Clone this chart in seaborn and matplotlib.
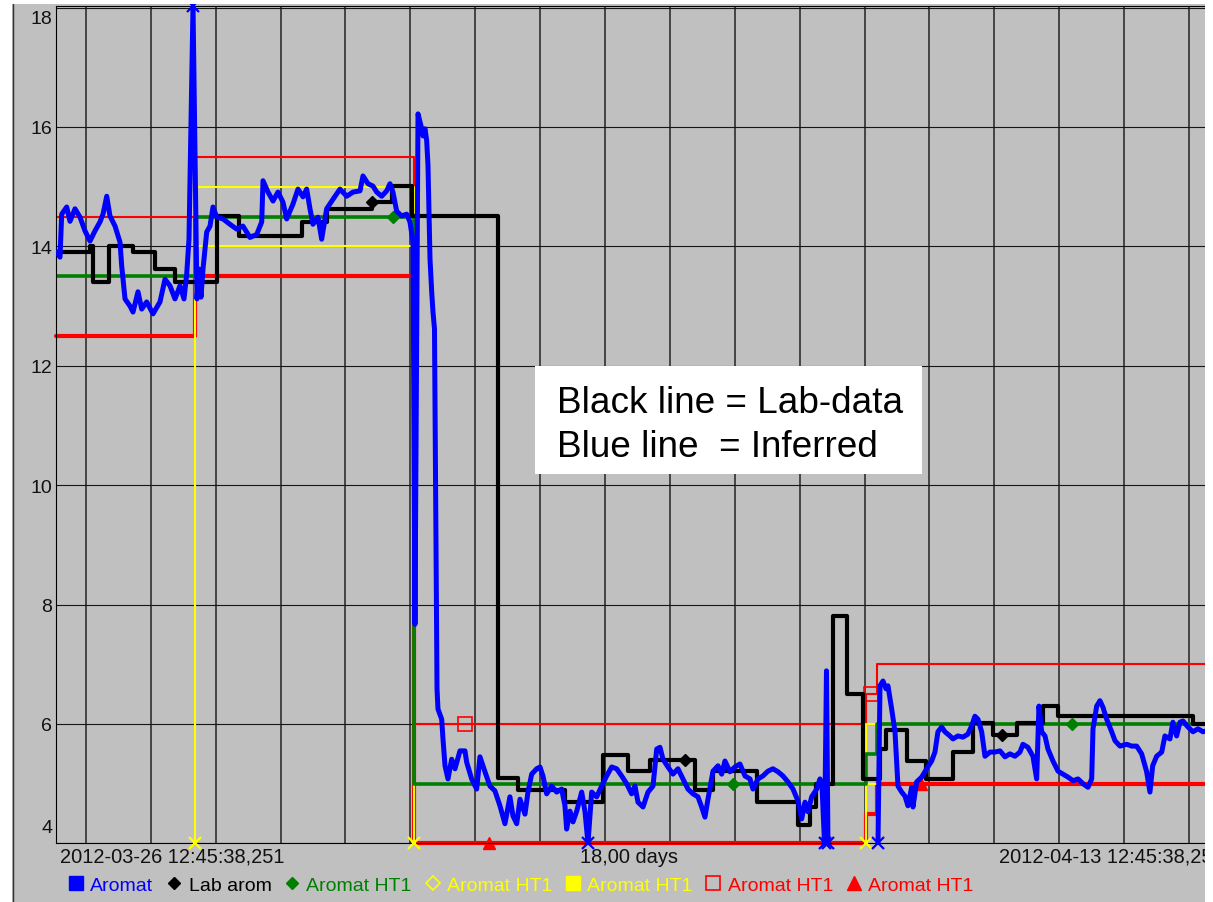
import numpy as np
import pandas as pd
import matplotlib
matplotlib.use("Agg")
import matplotlib.pyplot as plt
from matplotlib.lines import Line2D
from matplotlib.patches import Rectangle
from matplotlib.transforms import ScaledTranslation
import seaborn as sns

# ---------------------------------------------------------------------------
# Data: time in days since 2012-03-26 12:45:38,251 (18 day window), values in %
# ---------------------------------------------------------------------------
SPAN_DAYS = 18.0
FIRST_MIDNIGHT = 0.4683          # 2012-03-27 00:00 relative to the window start

# Inferred aromatics (blue), two runs separated by a data gap
inferred_days_a = [
    0.017, 0.068, 0.094, 0.171, 0.222, 0.299, 0.376, 0.453, 0.530, 0.607,
    0.684, 0.731, 0.788, 0.838, 0.916, 0.993, 1.019, 1.070, 1.147, 1.193,
    1.270, 1.327, 1.404, 1.501, 1.609, 1.686, 1.763, 1.840, 1.917, 1.979,
    2.021, 2.056, 2.118, 2.179, 2.210, 2.241, 2.272, 2.329, 2.380, 2.426,
    2.483, 2.580, 2.688, 2.791, 2.888, 2.996, 3.100, 3.177, 3.197, 3.274,
    3.351, 3.428, 3.505, 3.562, 3.659, 3.736, 3.813, 3.870, 3.921, 3.967,
    4.044, 4.101, 4.178, 4.276, 4.383, 4.487, 4.584, 4.692, 4.738, 4.815,
    4.892, 4.949, 5.026, 5.103, 5.154, 5.200, 5.257, 5.334, 5.411, 5.462,
    5.509, 5.539, 5.586, 5.643, 5.663, 5.694, 5.720, 5.740, 5.771, 5.797,
    5.817, 5.840, 5.879, 5.894, 5.951, 5.971, 6.002, 6.048, 6.105, 6.156,
    6.233, 6.310, 6.336, 6.413, 6.490, 6.541, 6.618, 6.695, 6.772, 6.849,
    6.926, 7.003, 7.050, 7.107, 7.158, 7.235, 7.281, 7.338, 7.415, 7.466,
    7.512, 7.569, 7.646, 7.723, 7.800, 7.851, 7.877, 7.928, 7.975, 8.032,
    8.109, 8.160, 8.206, 8.263, 8.340, 8.417, 8.494, 8.571, 8.648, 8.725,
    8.802, 8.879, 8.930, 8.977, 9.054, 9.131, 9.208, 9.265, 9.316, 9.362,
    9.439, 9.516, 9.593, 9.670, 9.747, 9.824, 9.901, 9.958, 10.009, 10.055,
    10.133, 10.210, 10.267, 10.317, 10.394, 10.471, 10.548, 10.626, 10.703, 10.749,
    10.826, 10.903, 10.980, 11.057, 11.134, 11.211, 11.288, 11.366, 11.443, 11.500,
    11.551, 11.597, 11.654, 11.731, 11.782, 11.813, 11.852, 11.882, 11.905,
]
inferred_vals_a = [
    13.91, 13.82, 14.54, 14.66, 14.42, 14.63, 14.49, 14.26, 14.09, 14.26,
    14.41, 14.54, 14.84, 14.51, 14.34, 14.07, 13.67, 13.12, 13.00, 12.90,
    13.24, 12.95, 13.07, 12.87, 13.07, 13.45, 13.34, 13.12, 13.34, 13.12,
    13.54, 14.12, 19.00, 13.12, 13.62, 13.15, 13.62, 14.24, 14.34, 14.66,
    14.49, 14.46, 14.37, 14.29, 14.34, 14.15, 14.20, 14.41, 15.10, 14.91,
    14.76, 14.91, 14.74, 14.46, 14.71, 14.96, 14.83, 14.96, 14.63, 14.37,
    14.49, 14.12, 14.63, 14.79, 14.96, 14.84, 14.91, 14.93, 15.18, 15.05,
    15.01, 14.91, 14.84, 14.93, 15.05, 14.91, 14.59, 14.51, 14.54, 14.41,
    14.07, 7.67, 16.22, 15.97, 15.85, 15.97, 15.77, 15.35, 13.79, 13.24,
    12.90, 12.62, 6.59, 6.25, 6.08, 5.75, 5.30, 5.08, 5.41, 5.25,
    5.55, 5.55, 5.36, 5.08, 4.91, 5.45, 5.20, 4.96, 4.88, 4.63,
    4.33, 4.78, 4.46, 4.33, 4.74, 4.49, 4.86, 5.16, 5.25, 5.28,
    5.13, 4.83, 4.96, 4.86, 4.91, 4.63, 4.24, 4.54, 4.36, 4.54,
    4.86, 4.53, 3.90, 4.86, 4.78, 4.96, 5.13, 5.28, 5.25, 5.13,
    5.00, 4.83, 4.96, 4.69, 4.61, 4.86, 4.96, 5.58, 5.61, 5.41,
    5.28, 5.16, 5.25, 5.08, 4.91, 4.83, 4.78, 4.61, 4.44, 4.74,
    5.21, 5.30, 5.16, 5.38, 5.20, 5.28, 5.33, 5.13, 5.08, 4.91,
    5.08, 5.13, 5.21, 5.25, 5.20, 5.13, 5.03, 4.91, 4.71, 4.41,
    4.69, 4.53, 4.78, 4.91, 5.08, 4.96, 3.90, 6.89, 3.90,
]
inferred_days_b = [
    12.676, 12.707, 12.753, 12.799, 12.830, 12.887, 12.938, 12.984, 13.041, 13.092,
    13.138, 13.195, 13.215, 13.272, 13.349, 13.426, 13.503, 13.554, 13.600, 13.657,
    13.708, 13.785, 13.831, 13.908, 13.985, 14.062, 14.120, 14.170, 14.217, 14.274,
    14.325, 14.402, 14.479, 14.556, 14.633, 14.710, 14.787, 14.864, 14.910, 14.987,
    15.064, 15.122, 15.157, 15.199, 15.250, 15.296, 15.373, 15.451, 15.528, 15.605,
    15.682, 15.759, 15.836, 15.913, 15.970, 15.990, 16.047, 16.097, 16.144, 16.201,
    16.278, 16.329, 16.406, 16.509, 16.586, 16.663, 16.740, 16.817, 16.868, 16.910,
    16.971, 17.049, 17.099, 17.176, 17.222, 17.279, 17.330, 17.377, 17.454, 17.531,
    17.608, 17.685, 17.793, 17.994,
]
inferred_vals_b = [
    3.90, 6.64, 6.72, 6.59, 6.64, 6.25, 5.87, 4.96, 4.86, 4.79,
    4.63, 4.94, 4.61, 5.03, 5.11, 5.25, 5.38, 5.53, 5.87, 5.95,
    5.87, 5.80, 5.75, 5.80, 5.78, 5.83, 5.97, 6.13, 6.08, 5.87,
    5.46, 5.53, 5.53, 5.55, 5.45, 5.50, 5.46, 5.53, 5.66, 5.61,
    5.46, 5.08, 6.30, 5.87, 5.80, 5.58, 5.38, 5.21, 5.16, 5.11,
    5.05, 5.08, 5.00, 4.94, 5.08, 5.92, 6.30, 6.39, 6.28, 6.08,
    5.87, 5.72, 5.63, 5.66, 5.63, 5.63, 5.50, 5.20, 4.86, 5.30,
    5.46, 5.53, 5.80, 5.75, 6.03, 5.80, 6.03, 6.05, 5.95, 5.87,
    5.92, 5.87, 5.90, 5.87,
]

# Laboratory aromatics (black), held until the next sample
lab_days = [
    0.0, 0.530, 0.576, 0.823, 1.193, 1.532, 1.840, 2.488, 2.827, 3.798,
    4.183, 4.877, 5.185, 5.493, 6.819, 7.127, 7.852, 8.437, 8.823, 9.162,
    9.856, 10.133, 10.811, 11.443, 11.628, 11.721, 11.983, 12.198, 12.445, 12.707,
    12.799, 13.123, 13.416, 13.832, 14.141, 14.449, 14.818, 15.219, 15.451, 17.531,
    18.0,
]
lab_vals = [
    13.91, 14.01, 13.41, 14.01, 13.91, 13.62, 13.41, 14.51, 14.17, 14.41,
    14.63, 14.74, 15.02, 14.51, 5.10, 4.90, 4.70, 5.48, 5.22, 5.40,
    4.90, 5.22, 4.70, 4.30, 4.61, 5.00, 7.81, 6.50, 5.08, 5.58,
    5.90, 5.38, 5.08, 5.53, 6.02, 5.82, 6.02, 6.30, 6.13, 6.00,
    6.00,
]

# HT1 limits and target (step changes)
limit_days = [0.0, 2.149, 5.524, 12.491, 12.661, 18.0]
high_limit = [14.5, 15.5, 6.0, 6.5, 7.0, 7.0]
target = [13.5, 14.5, 5.0, 5.5, 6.0, 6.0]
low_limit = [12.5, 13.5, 4.0, 4.5, 5.0, 5.0]

# inner (yellow) band, only present in two periods
band_start = [2.149, 12.491]
band_end = [5.524, 12.661]
band_high = [15.0, 6.0]
band_low = [14.0, 5.0]

# yellow change markers
change_days = [2.149, 5.524, 12.491]
change_tops = [15.0, 15.0, 6.0]

# point markers on the individual series
lab_marker_days = [4.877, 9.701, 14.587]
lab_marker_vals = [14.74, 5.40, 5.82]
target_marker_days = [5.200, 10.441, 15.666]
target_marker_vals = [14.5, 5.0, 6.0]
high_marker_days = [6.310, 12.567]
high_marker_vals = [6.0, 6.5]
low_marker_days = [6.680, 13.338]
low_marker_vals = [4.0, 5.0]

legend_labels = ["Aromat", "Lab arom", "Aromat HT1", "Aromat HT1",
                 "Aromat HT1", "Aromat HT1", "Aromat HT1"]
start_label = "2012-03-26 12:45:38,251"
end_label = "2012-04-13 12:45:38,251"
span_label = "18,00 days"
note_lines = ["Black line = Lab-data", "Blue line  = Inferred"]

# ---------------------------------------------------------------------------
# Styling
# ---------------------------------------------------------------------------
W, H, DPI = 1213, 903, 100
PANEL = "#c0c0c0"
BLUE, BLACK, GREEN, YELLOW, RED = "#0000ff", "#000000", "#008000", "#ffff00", "#ff0000"
Y_MIN = 4.0
Y_MAX = 4.0 + (844.4 - 7.0) / 59.7

sns.set_style("white", rc={"axes.facecolor": PANEL, "axes.edgecolor": "black",
                           "axes.linewidth": 0.9})
plt.rcParams["font.family"] = ["Liberation Sans", "DejaVu Sans"]


def fx(px):
    return px / W


def fy(py):
    return 1.0 - py / H


fig = plt.figure(figsize=(W / DPI, H / DPI), dpi=DPI, facecolor=PANEL)
ax_l, ax_r, ax_t, ax_b = 55.6, 1223.4, 7.0, 844.4
ax = fig.add_axes([fx(ax_l), fy(ax_b), (ax_r - ax_l) / W, (ax_b - ax_t) / H])
ax.set_xlim(0, SPAN_DAYS)
ax.set_ylim(Y_MIN, Y_MAX)

# grid: midnight lines and every 2 %
midnights = np.arange(FIRST_MIDNIGHT, SPAN_DAYS, 1.0)
for d in midnights:
    ax.axvline(d, color="#3a3a3a", lw=1.3, zorder=0.5)
for v in range(4, 19, 2):
    ax.axhline(v, color="#161616", lw=0.8, zorder=0.5)

# limits
limits = pd.DataFrame({"day": limit_days, "high": high_limit,
                       "target": target, "low": low_limit})
sns.lineplot(data=limits, x="day", y="low", color=RED, lw=3.0, drawstyle="steps-post",
             estimator=None, sort=False, legend=False, ax=ax, zorder=2, clip_on=False)
sns.lineplot(data=limits, x="day", y="high", color=RED, lw=1.5, drawstyle="steps-post",
             estimator=None, sort=False, legend=False, ax=ax, zorder=2)
for s, e, hi, lo in zip(band_start, band_end, band_high, band_low):
    ax.plot([s, e], [hi, hi], color=YELLOW, lw=1.5, zorder=2.2)
    ax.plot([s, e], [lo, lo], color=YELLOW, lw=1.5, zorder=2.2)
ax.vlines(change_days, Y_MIN, change_tops, color=YELLOW, lw=1.5, zorder=2.3)
sns.lineplot(data=limits, x="day", y="target", color=GREEN, lw=2.6, drawstyle="steps-post",
             estimator=None, sort=False, legend=False, ax=ax, zorder=2.4)

# lab data
lab = pd.DataFrame({"day": lab_days, "value": lab_vals})
sns.lineplot(data=lab, x="day", y="value", color=BLACK, lw=3.0, drawstyle="steps-post",
             estimator=None, sort=False, legend=False, ax=ax, zorder=2.6)

# inferred signal, clipped to the visible range; out-of-range samples get a cross
inferred = pd.concat([
    pd.DataFrame({"day": inferred_days_a, "value": inferred_vals_a, "run": 0}),
    pd.DataFrame({"day": inferred_days_b, "value": inferred_vals_b, "run": 1}),
], ignore_index=True)
inferred["shown"] = inferred["value"].clip(Y_MIN, Y_MAX)
sns.lineplot(data=inferred, x="day", y="shown", units="run", estimator=None, sort=False,
             color=BLUE, lw=3.6, legend=False, ax=ax, zorder=3)
outside = inferred[(inferred["value"] > Y_MAX) | (inferred["value"] < Y_MIN)]
ax.plot(outside["day"], outside["shown"], ls="none", marker="x", ms=9, mew=1.6,
        color=BLUE, zorder=3.2, clip_on=False)
ax.plot(change_days, [Y_MIN] * len(change_days), ls="none", marker="x", ms=9, mew=1.6,
        color=YELLOW, zorder=3.1, clip_on=False)

# series point markers
ax.plot(lab_marker_days, lab_marker_vals, ls="none", marker="D", ms=6.5, color=BLACK, zorder=2.7)
ax.plot(target_marker_days, target_marker_vals, ls="none", marker="D", ms=6.5, color=GREEN, zorder=2.5)
ax.plot(high_marker_days, high_marker_vals, ls="none", marker="s", ms=9.5, mfc="none",
        mec=RED, mew=1.2, zorder=2.1)
ax.plot(low_marker_days, low_marker_vals, ls="none", marker="^", ms=9, color=RED,
        zorder=2.1, clip_on=False)

# axes decoration
ax.set_xlabel("")
ax.set_ylabel("")
ax.set_xticks([])
ax.set_yticks(range(4, 19, 2))
ax.tick_params(axis="y", length=0, pad=2.5, labelsize=14, labelcolor="#111111")
ax.spines["right"].set_visible(False)
ylabels = ax.get_yticklabels()
ylabels[0].set_va("bottom")
ylabels[0].set_transform(ylabels[0].get_transform() + ScaledTranslation(0, 7 / DPI, fig.dpi_scale_trans))
ylabels[-1].set_va("top")
ylabels[-1].set_transform(ylabels[-1].get_transform() + ScaledTranslation(0, -2 / DPI, fig.dpi_scale_trans))

# note box
ax.add_patch(Rectangle((fx(535), fy(475)), (922 - 535) / W, (475 - 367) / H,
                       transform=fig.transFigure, facecolor="white", edgecolor="none", zorder=5))
for line, base in zip(note_lines, [413, 457]):
    ax.text(fx(557), fy(base), line, transform=fig.transFigure, fontsize=26.6,
            va="baseline", ha="left", color="black", zorder=6)

# time axis labels
fig.text(fx(60), fy(863), start_label, fontsize=14.4, va="baseline", ha="left", color="#111111")
fig.text(fx(629.5), fy(863), span_label, fontsize=14.4, va="baseline", ha="center", color="#111111")
fig.text(fx(999), fy(863), end_label, fontsize=14.4, va="baseline", ha="left", color="#111111")

# legend row
handles = [
    Line2D([], [], ls="none", marker="s", ms=9.5, color=BLUE),
    Line2D([], [], ls="none", marker="D", ms=6.5, color=BLACK),
    Line2D([], [], ls="none", marker="D", ms=6.5, color=GREEN),
    Line2D([], [], ls="none", marker="D", ms=7, mfc="none", mec=YELLOW, mew=1.2),
    Line2D([], [], ls="none", marker="s", ms=10, color=YELLOW),
    Line2D([], [], ls="none", marker="s", ms=10, mfc="none", mec=RED, mew=1.2),
    Line2D([], [], ls="none", marker="^", ms=10, color=RED),
]
fig.legend(handles, legend_labels, loc="center left", bbox_to_anchor=(fx(69), fy(886)),
           ncol=7, frameon=False, fontsize=14, handlelength=0.75, handletextpad=0.35,
           columnspacing=0.7, borderpad=0, borderaxespad=0,
           labelcolor=[BLUE, BLACK, GREEN, YELLOW, YELLOW, RED, RED])

# page margins around the panel
for x0, y0, x1, y1 in [(0, 0, 12, H), (1204.5, 0, W, H), (0, 0, W, 5)]:
    fig.add_artist(Rectangle((fx(x0), fy(y1)), (x1 - x0) / W, (y1 - y0) / H,
                             transform=fig.transFigure, facecolor="white",
                             edgecolor="none", zorder=20))
fig.add_artist(Line2D([fx(12.5), fx(12.5)], [0, fy(5)], transform=fig.transFigure,
                      color="#303030", lw=1.0, zorder=21))

fig.savefig("out.png", dpi=DPI, facecolor=fig.get_facecolor())
